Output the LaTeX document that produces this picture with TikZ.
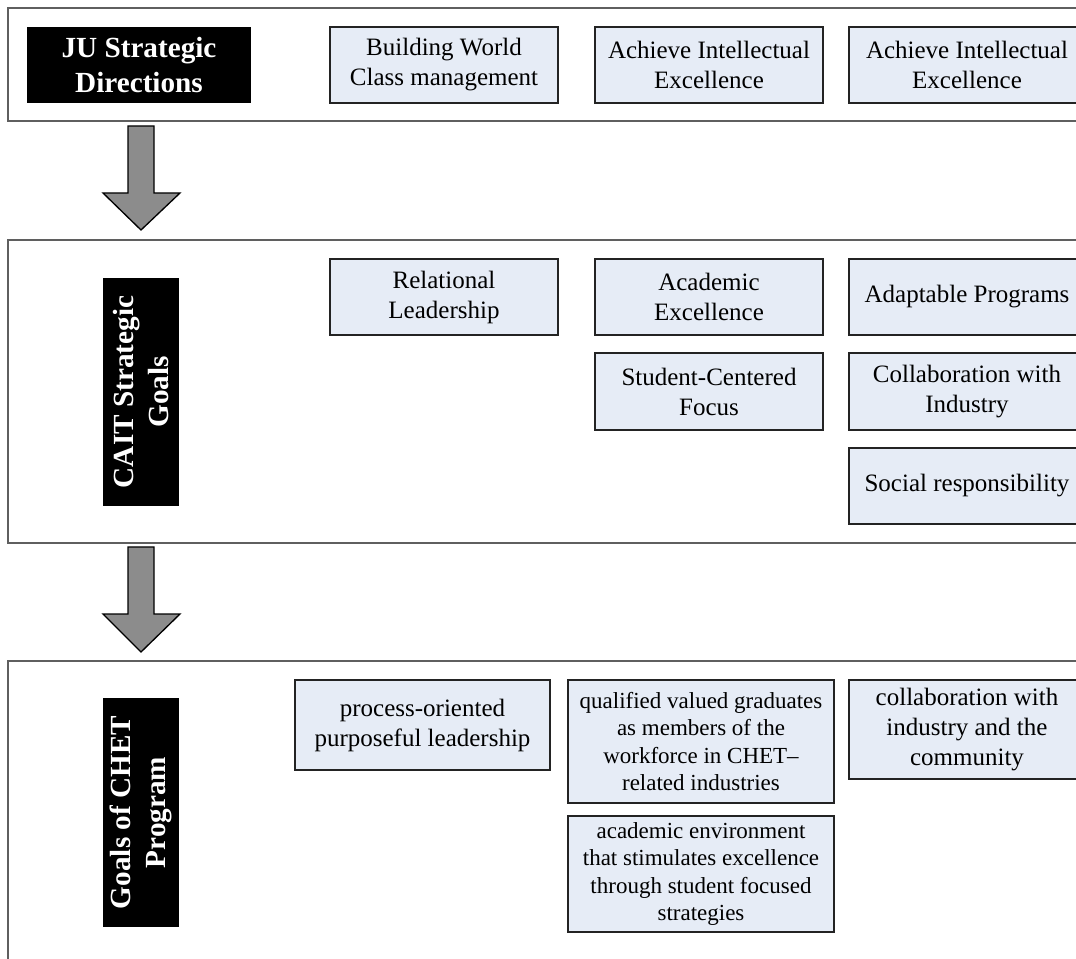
\documentclass[tikz,border=0pt]{standalone}
\usepackage{fontspec}
\setmainfont{Liberation Serif}
\definecolor{boxfill}{RGB}{230,236,246}
\definecolor{boxline}{RGB}{35,35,35}
\definecolor{panelline}{RGB}{95,95,95}
\definecolor{arrowfill}{RGB}{140,140,140}
\begin{document}
\begin{tikzpicture}[x=0.75pt,y=-0.75pt,
  panel/.style={draw=panelline,line width=0.8pt,fill=white},
  goalbox/.style={draw=boxline,line width=0.9pt,fill=boxfill,inner sep=0pt,align=center,
    font=\fontsize{18.75pt}{22.5pt}\selectfont,minimum width=171pt,minimum height=57pt},
  edgebox/.style={goalbox,minimum width=177pt},
  smallgoal/.style={goalbox,font=\fontsize{17.25pt}{20.6pt}\selectfont},
  titlebox/.style={fill=black,text=white,inner sep=0pt,align=center,
    font=\fontsize{21.9pt}{26.5pt}\selectfont\bfseries},
  blockarrow/.style={draw=black,line width=1pt,fill=arrowfill,line join=miter}
]
\useasboundingbox (0,0) rectangle (1076,959);
\clip (0,0) rectangle (1076,959);
% panels
\draw[panel] (8,8) rectangle (1095,121);
\draw[panel] (8,240) rectangle (1095,543);
\draw[panel] (8,661) rectangle (1095,985);
% panel 1
\node[titlebox,minimum width=168pt,minimum height=57pt] (ju) at (139,65) {JU Strategic\\Directions};
\node[goalbox] (bw) at (444,65) {Building World\\Class management};
\node[goalbox] (ai1) at (709,65) {Achieve Intellectual\\Excellence};
\node[edgebox] (ai2) at (967,65) {Achieve Intellectual\\Excellence};
% arrow 1
\coordinate (a1) at (141,126);
\draw[blockarrow] (a1) ++(-13,0) -- ++(26,0) -- ++(0,67) -- ++(26,0) -- ++(-39,37) -- ++(-38,-37) -- ++(25,0) -- cycle;
% panel 2
\node[titlebox,rotate=90,minimum width=171pt,minimum height=57pt] (cait) at (141,392) {CAIT Strategic\\Goals};
\node[goalbox] (rl) at (444,297) {Relational\\Leadership};
\node[goalbox] (ae) at (709,297) {Academic\\Excellence};
\node[edgebox] (ap) at (967,297) {Adaptable Programs};
\node[goalbox,minimum height=57.75pt] (sc) at (709,391.5) {Student-Centered\\Focus};
\node[edgebox,minimum height=57.75pt] (ci) at (967,391.5) {Collaboration with\\Industry};
\node[edgebox] (sr) at (967,486) {Social responsibility};
% arrow 2
\coordinate (a2) at (141,547);
\draw[blockarrow] (a2) ++(-13,0) -- ++(26,0) -- ++(0,67) -- ++(26,0) -- ++(-39,38) -- ++(-38,-38) -- ++(25,0) -- cycle;
% panel 3
\node[titlebox,rotate=90,minimum width=171.75pt,minimum height=57pt] (chet) at (141,812.5) {Goals of CHET\\Program};
\node[goalbox,minimum width=191.25pt,minimum height=67.5pt] (po) at (422.5,725) {process-oriented\\purposeful leadership};
\node[smallgoal,minimum width=199.5pt,minimum height=92.25pt] (qv) at (701,741.5) {qualified valued graduates\\as members of the\\workforce in CHET--\\related industries};
\node[smallgoal,minimum width=199.5pt,minimum height=87pt] (aen) at (701,874) {academic environment\\that stimulates excellence\\through student focused\\strategies};
\node[edgebox,minimum height=74.25pt] (cw) at (967,729.5) {collaboration with\\industry and the\\community};
\end{tikzpicture}
\end{document}
